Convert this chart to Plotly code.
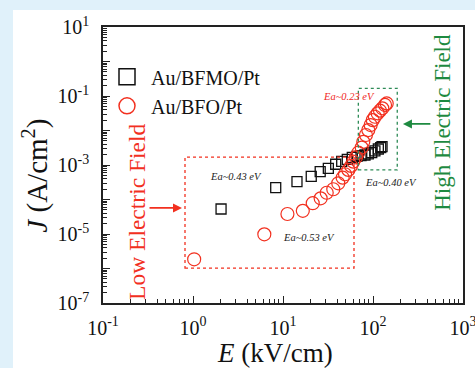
import math
import plotly.graph_objects as go

# ---- data ----
bfmo_E = [2.05, 8.3, 14.3, 20.6, 25.9, 31.9, 38.5, 44.9, 51.8, 58.9, 66.4, 73.6,
          81.5, 88.7, 96.8, 105, 114.6, 121.8, 126]
bfmo_J = [5.3e-5, 2.2e-4, 3.3e-4, 4.7e-4, 6.4e-4, 8.0e-4, 1.05e-3, 1.28e-3, 1.46e-3,
          1.67e-3, 1.78e-3, 1.88e-3, 1.95e-3, 2.09e-3, 2.28e-3, 2.55e-3, 2.91e-3,
          3.2e-3, 3.43e-3]

bfo_E = [1.03, 6.2, 11.2, 16.6, 21.4, 26.2, 30.6, 36.2, 41.1, 46.0, 48.9, 53.2, 57.0,
         60.4, 64.7, 68.7, 74.9, 78.0, 83.5, 88.7, 94.2, 99.3, 105, 112.7, 119.6,
         126.9, 136, 142]
bfo_J = [1.85e-6, 9.8e-6, 3.8e-5, 4.7e-5, 7.8e-5, 1.08e-4, 1.57e-4, 1.98e-4, 2.95e-4,
         4.3e-4, 5.4e-4, 7.2e-4, 9.4e-4, 1.25e-3, 1.67e-3, 2.27e-3, 3.2e-3, 4.7e-3,
         7.4e-3, 1.03e-2, 1.44e-2, 2.0e-2, 2.5e-2, 3.15e-2, 3.75e-2, 4.4e-2, 5.5e-2,
         6.1e-2]

series_names = ["Au/BFMO/Pt", "Au/BFO/Pt"]

x_decades = [-1, 0, 1, 2, 3]
y_decades = [-7, -6, -5, -4, -3, -2, -1, 0, 1]
y_label_decades = [-7, -5, -3, -1, 1]

x_title = "<i>E</i> (kV/cm)"
y_title = "<i>J</i> (A/cm<sup>2</sup>)"

# annotation boxes (data coords): low field / high field
low_box = dict(x0=0.815, x1=61.5, y0=1.03e-6, y1=1.7e-3)
high_box = dict(x0=68.7, x1=186, y0=7.2e-4, y1=0.167)

ea_labels = [
    ("Ea~0.23 eV", 54.0, 0.1, "#f0281e"),
    ("Ea~0.43 eV", 3.0, 4.5e-4, "#222222"),
    ("Ea~0.40 eV", 160, 3.2e-4, "#222222"),
    ("Ea~0.53 eV", 19.4, 7.7e-6, "#222222"),
]

RED = "#f2301f"
GREEN = "#1e8a40"
FONT = "Liberation Serif, Times New Roman, serif"

fig = go.Figure()

fig.add_trace(go.Scatter(x=bfmo_E, y=bfmo_J, mode="markers", showlegend=False,
                         marker=dict(symbol="square-open", size=10, color="#111111",
                                     line=dict(width=1.3))))
fig.add_trace(go.Scatter(x=bfo_E, y=bfo_J, mode="markers", showlegend=False,
                         marker=dict(symbol="circle-open", size=13, color=RED,
                                     line=dict(width=1.2))))
# legend entries (larger symbols)
fig.add_trace(go.Scatter(x=[None], y=[None], mode="markers", name=series_names[0],
                         marker=dict(symbol="square-open", size=16, color="#111111",
                                     line=dict(width=1.5))))
fig.add_trace(go.Scatter(x=[None], y=[None], mode="markers", name=series_names[1],
                         marker=dict(symbol="circle-open", size=17, color=RED,
                                     line=dict(width=1.5))))

def minor_vals(decs):
    out = []
    for d in decs[:-1]:
        for m in range(2, 10):
            out.append(m * 10 ** d)
    return out

def sup_label(d):
    return "10<sup>%d</sup>" % d

fig.update_xaxes(type="log", range=[-1, 3], automargin=False,
                 tickvals=[10 ** d for d in x_decades],
                 ticktext=[sup_label(d) for d in x_decades],
                 ticklabeloverflow="allow",
                 ticks="inside", ticklen=7, tickwidth=1.3, tickcolor="#222",
                 minor=dict(tickvals=minor_vals(x_decades), ticks="inside", ticklen=4,
                            tickwidth=1, tickcolor="#222"),
                 showline=True, mirror=True, linecolor="#222", linewidth=1.5,
                 showgrid=False, zeroline=False,
                 tickfont=dict(family=FONT, size=20, color="#111"),
                 ticklabelstandoff=6)
fig.update_yaxes(type="log", range=[-7, 1], automargin=False,
                 tickvals=[10 ** d for d in y_decades],
                 ticktext=[sup_label(d) if d in y_label_decades else "" for d in y_decades],
                 ticklabeloverflow="allow",
                 ticks="inside", ticklen=7, tickwidth=1.3, tickcolor="#222",
                 minor=dict(tickvals=minor_vals(y_decades), ticks="inside", ticklen=4,
                            tickwidth=1, tickcolor="#222"),
                 showline=True, mirror=True, linecolor="#222", linewidth=1.5,
                 showgrid=False, zeroline=False,
                 tickfont=dict(family=FONT, size=20, color="#111"),
                 ticklabelstandoff=8)

shapes = [
    dict(type="rect", xref="paper", yref="paper", x0=-0.25, x1=1.04, y0=-0.24, y1=1.0616,
         fillcolor="white", line=dict(width=0), layer="below"),
    dict(type="rect", xref="x", yref="y", line=dict(color=RED, width=1.3, dash="dot"),
         **low_box),
    dict(type="rect", xref="x", yref="y", line=dict(color="#2e8b57", width=1.3, dash="dot"),
         **high_box),
]

annotations = []
for text, x, y, col in ea_labels:
    annotations.append(dict(x=math.log10(x), y=math.log10(y), xref="x", yref="y",
                            xanchor="center", yanchor="middle",
                            text="<i>%s</i>" % text, showarrow=False,
                            font=dict(family=FONT, size=10.5, color=col)))
annotations += [
    # axis titles
    dict(x=0.478, y=-0.18, xref="paper", yref="paper", text=x_title,
         xanchor="center", yanchor="middle", showarrow=False,
         font=dict(family=FONT, size=27, color="#111")),
    dict(x=-0.19, y=0.46, xref="paper", yref="paper", text=y_title, textangle=-90,
         xanchor="center", yanchor="middle", showarrow=False,
         font=dict(family=FONT, size=29, color="#111")),
    # field labels
    dict(x=0.0944, y=0.33, xref="paper", yref="paper", text="Low Electric Field",
         xanchor="center", yanchor="middle",
         textangle=-90, showarrow=False, font=dict(family=FONT, size=23.5, color=RED)),
    dict(x=0.944, y=0.656, xref="paper", yref="paper", text="High Electric Field",
         xanchor="center", yanchor="middle",
         textangle=-90, showarrow=False, font=dict(family=FONT, size=23, color=GREEN)),
    dict(x=math.log10(0.755), y=math.log10(5.7e-5), xref="x", yref="y", text="",
         showarrow=True, ax=-34, ay=0, arrowhead=2, arrowsize=1, arrowwidth=1.8,
         arrowcolor=RED),
    dict(x=math.log10(215), y=math.log10(0.0155), xref="x", yref="y", text="",
         showarrow=True, ax=29, ay=0, arrowhead=2, arrowsize=1, arrowwidth=1.8,
         arrowcolor=GREEN),
]

fig.update_layout(
    width=475, height=368,
    margin=dict(l=103, r=12, t=27, b=65, autoexpand=False),
    paper_bgcolor="#e0f1fa", plot_bgcolor="white",
    shapes=shapes, annotations=annotations,
    showlegend=True,
    legend=dict(x=0.0, y=0.89, xanchor="left", yanchor="top",
                bgcolor="rgba(0,0,0,0)", font=dict(family=FONT, size=20, color="#111"),
                itemsizing="trace", itemwidth=38, tracegroupgap=0),
)

fig.write_html("out.html")
